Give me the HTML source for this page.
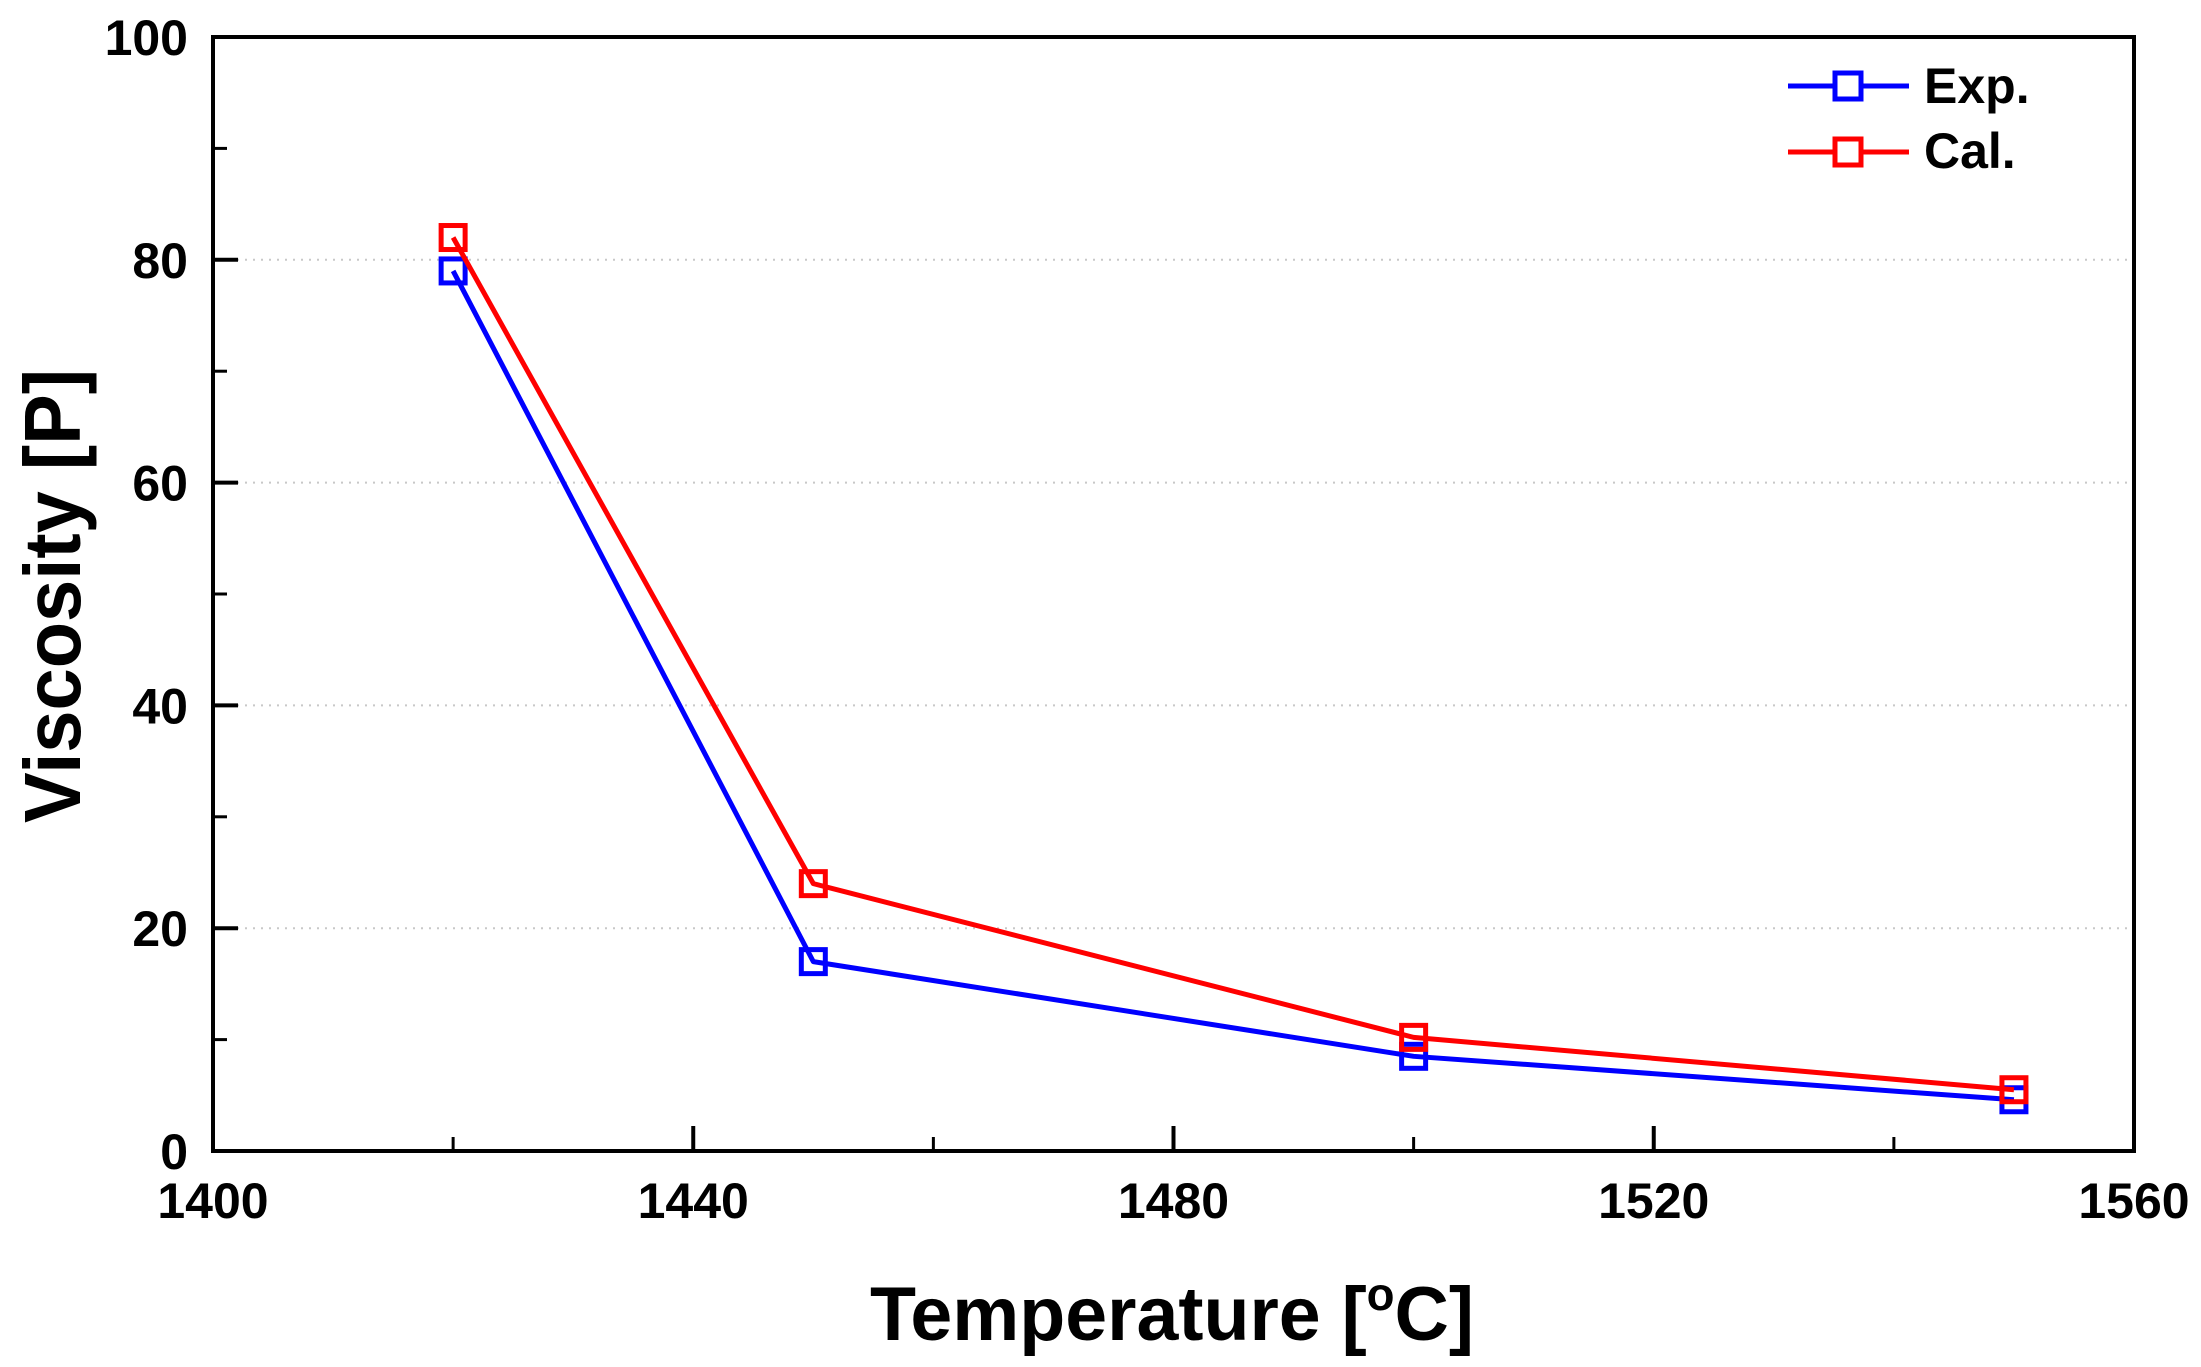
<!DOCTYPE html>
<html><head><meta charset="utf-8"><style>
html,body{margin:0;padding:0;background:#fff;}
svg{display:block;font-family:"Liberation Sans",Arial,sans-serif;font-weight:bold;}
</style></head><body>
<svg id="chart" width="2201" height="1367" viewBox="0 0 2201 1367" xmlns="http://www.w3.org/2000/svg">
<rect x="0" y="0" width="2201" height="1367" fill="#fff"/>
<g id="grid"></g>
<g id="axes"></g>
<g id="series"></g>
<text x="1172" y="1340" font-size="76" text-anchor="middle" textLength="604" lengthAdjust="spacingAndGlyphs">Temperature [<tspan font-size="46" dy="-30">o</tspan><tspan dy="30">C]</tspan></text>
<text transform="translate(80,596) rotate(-90)" font-size="80" text-anchor="middle" textLength="454" lengthAdjust="spacingAndGlyphs">Viscosity [P]</text>
<g>
 <g>
  <line x1="1788" y1="86" x2="1909" y2="86" stroke="#0000ff" stroke-width="5"/>
  <rect x="1835" y="73" width="26" height="26" fill="#fff" stroke="#0000ff" stroke-width="5"/>
  <text x="1924" y="103" font-size="50">Exp.</text>
 </g>
 <g>
  <line x1="1788" y1="152" x2="1909" y2="152" stroke="#ff0000" stroke-width="5"/>
  <rect x="1835" y="139" width="26" height="26" fill="#fff" stroke="#ff0000" stroke-width="5"/>
  <text x="1924" y="168" font-size="50">Cal.</text>
 </g>
</g>
</svg>
<script>
const temps = [1420, 1450, 1500, 1550];
const expValues = [79, 17, 8.5, 4.6];
const calValues = [82, 24, 10.2, 5.5];
const xTicks = [1400, 1440, 1480, 1520, 1560];
const xMinorTicks = [1420, 1460, 1500, 1540];
const yTicks = [0, 20, 40, 60, 80, 100];
const yMinorTicks = [10, 30, 50, 70, 90];
const gridValues = [20, 40, 60, 80];

const L = 213, R = 2134, T = 37, B = 1151;
const xMin = 1400, xMax = 1560, yMin = 0, yMax = 100;
function sx(v){ return L + (v - xMin) / (xMax - xMin) * (R - L); }
function sy(v){ return B - (v - yMin) / (yMax - yMin) * (B - T); }
const NS = "http://www.w3.org/2000/svg";
function mk(tag, attrs, parent){
  const e = document.createElementNS(NS, tag);
  for (const k in attrs) e.setAttribute(k, attrs[k]);
  parent.appendChild(e);
  return e;
}
const grid = document.getElementById('grid');
const axes = document.getElementById('axes');
const series = document.getElementById('series');

gridValues.forEach(v => {
  const g = mk('line', {x1: L, x2: R, y1: sy(v), y2: sy(v), stroke: '#c8c8c8', 'stroke-width': 2, 'stroke-dasharray': '2,6'}, grid);
  
  
});

const frame = mk('rect', {x: L, y: T, width: R - L, height: B - T, fill: 'none', stroke: '#000', 'stroke-width': 4}, axes);



xTicks.forEach(v => {
  const t = mk('line', {x1: sx(v), x2: sx(v), y1: B, y2: B - 25, stroke: '#000', 'stroke-width': 4}, axes);
  
  
  const lb = mk('text', {x: sx(v), y: 1218, 'font-size': 50, 'text-anchor': 'middle'}, axes);
  lb.textContent = v;
  
  
});
xMinorTicks.forEach(v => {
  const t = mk('line', {x1: sx(v), x2: sx(v), y1: B, y2: B - 14, stroke: '#000', 'stroke-width': 3}, axes);
  
  
});
yTicks.forEach(v => {
  const t = mk('line', {x1: L, x2: L + 25, y1: sy(v), y2: sy(v), stroke: '#000', 'stroke-width': 4}, axes);
  
  
  const lb = mk('text', {x: 188, y: sy(v) + 18, 'font-size': 50, 'text-anchor': 'end'}, axes);
  lb.textContent = v;
  
  
});
yMinorTicks.forEach(v => {
  const t = mk('line', {x1: L, x2: L + 14, y1: sy(v), y2: sy(v), stroke: '#000', 'stroke-width': 3}, axes);
  
  
});

function drawSeries(vals, color, name){
  const pts = temps.map((t, i) => sx(t) + ',' + sy(vals[i])).join(' ');
  const pl = mk('polyline', {points: pts, fill: 'none', stroke: color, 'stroke-width': 5, 'stroke-linejoin': 'round'}, series);
  
  
  temps.forEach((t, i) => {
    const m = mk('rect', {x: sx(t) - 12, y: sy(vals[i]) - 12, width: 24, height: 24, fill: 'none', stroke: color, 'stroke-width': 5}, series);
    
    
  });
}
drawSeries(expValues, '#0000ff', 'exp');
drawSeries(calValues, '#ff0000', 'cal');
</script>
</body></html>
